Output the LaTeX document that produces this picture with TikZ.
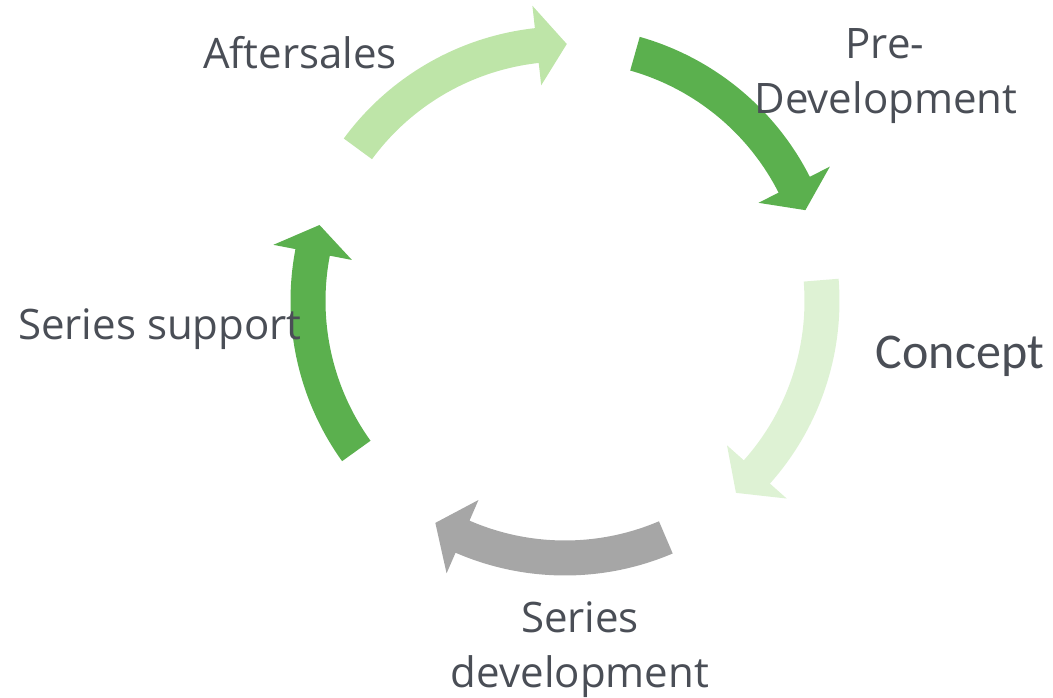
\documentclass[tikz,border=0pt]{standalone}
\usepackage{fontspec}
\setmainfont{Open Sans}
\newfontfamily\calibfont{Carlito}
\definecolor{lgreen}{RGB}{190,229,168}
\definecolor{mgreen}{RGB}{91,176,78}
\definecolor{pgreen}{RGB}{222,242,212}
\definecolor{agrey}{RGB}{166,166,166}
\definecolor{txt}{RGB}{74,78,86}
\newcommand\cycarrow[4]{%
  \fill[#1] (#2:274.5) arc[start angle=#2, end angle=#3, radius=274.5]
    -- (#3:297) -- (#4:257) -- (#3:217) -- (#3:239.5)
    arc[start angle=#3, end angle=#2, radius=239.5] -- cycle;}
\begin{document}
\begin{tikzpicture}[x=1pt,y=1pt,
  lbl/.style={inner sep=0pt, anchor=base, text=txt, font=\fontsize{42}{50}\selectfont}]
\useasboundingbox (0,0) rectangle (1053,698);
\begin{scope}[shift={(565,397)}]
  \cycarrow{lgreen}{143.7}{96.3}{89.6}
  \cycarrow{mgreen}{74.2}{26.9}{20.7}
  \cycarrow{pgreen}{4.65}{-41.7}{-48.3}
  \cycarrow{agrey}{-66.9}{-113.5}{-120.3}
  \cycarrow{mgreen}{215.7}{169.1}{162.8}
\end{scope}
\node[lbl] (after) at (300,629) {Aftersales};
\node[lbl] (pre1) at (885,639) {Pre-};
\node[lbl] (pre2) at (886,584) {Development};
\node[lbl, font=\calibfont\fontsize{50}{60}\selectfont] (concept) at (960,329) {Concept};
\node[lbl] (sd1) at (580,65) {Series};
\node[lbl] (sd2) at (580,10) {development};
\node[lbl] (ss) at (160,358) {Series support};
\end{tikzpicture}
\end{document}
